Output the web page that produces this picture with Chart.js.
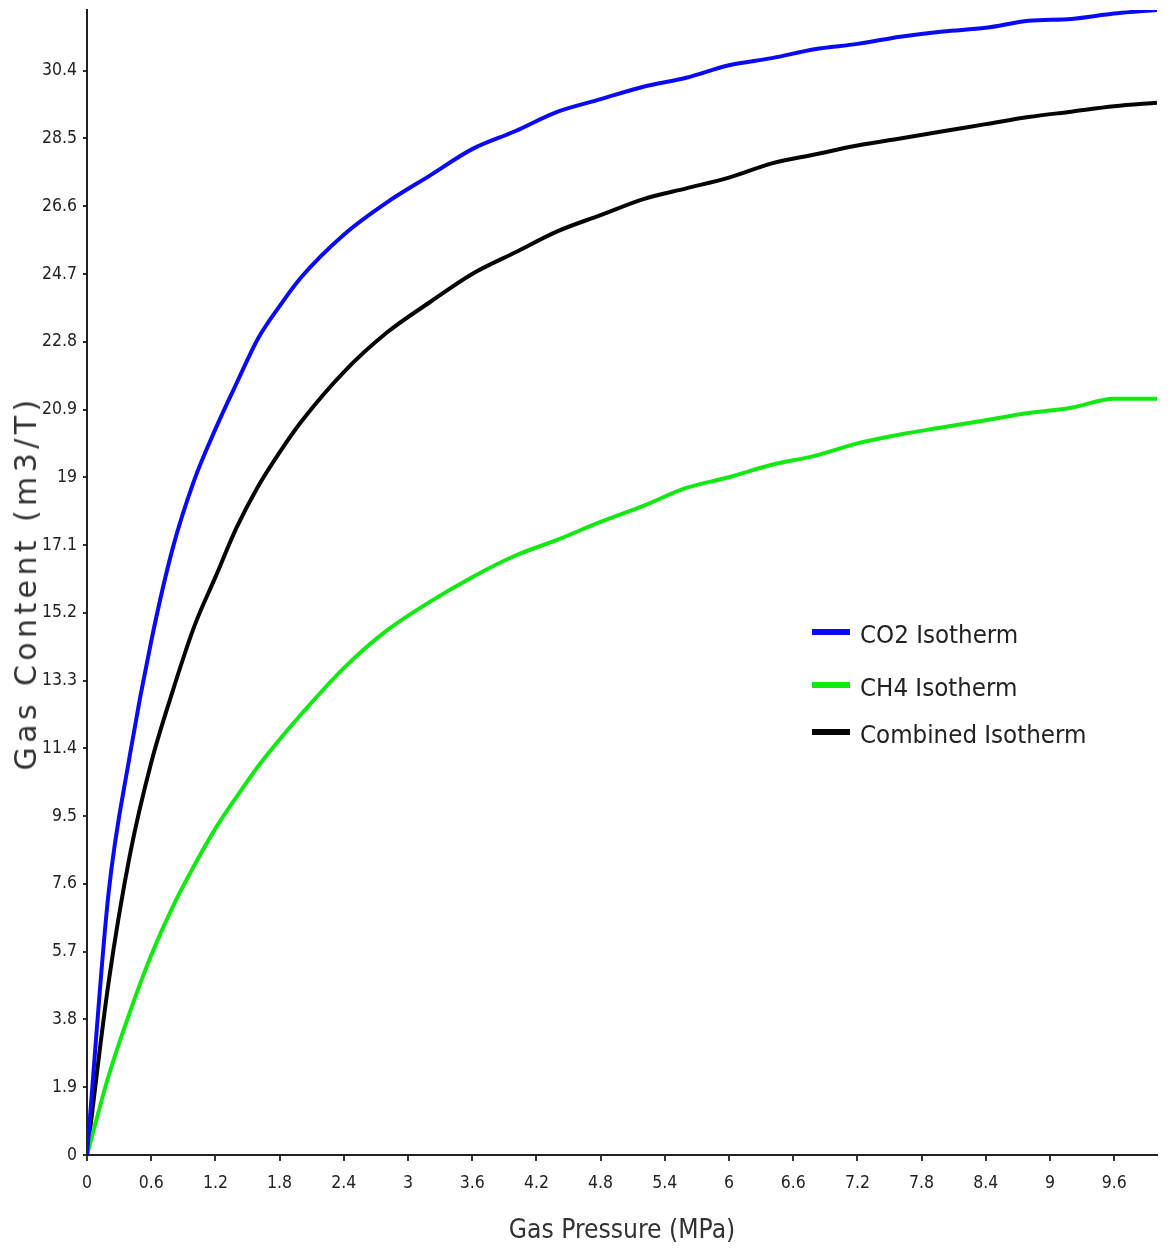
<!DOCTYPE html>
<html>
<head>
<meta charset="utf-8">
<script src="https://cdn.jsdelivr.net/npm/chart.js@4.4.1/dist/chart.umd.min.js"></script>
<style>
html,body{margin:0;padding:0;background:#fff;}
#wrap{position:relative;width:1169px;height:1249px;}
#legend{position:absolute;left:812px;top:616px;color:#222;}
.item{position:absolute;left:0;white-space:nowrap;height:36px;line-height:36px;}
.sw{position:absolute;left:0;top:13px;width:38px;height:6px;}
.lt{position:absolute;left:48px;top:0;}
#ytitle{position:absolute;left:26px;top:582px;transform:translate(-50%,-50%) rotate(-90deg);white-space:nowrap;color:#333;line-height:1;}
</style>
</head>
<body>
<div id="wrap">
  <canvas id="c" width="1169" height="1249"></canvas>
  <div id="legend"></div>
  <div id="ytitle"></div>
</div>
<script>
// ---- data ----
const pressure = [0, 0.2, 0.4, 0.6, 0.8, 1.0, 1.2, 1.4, 1.6, 1.8, 2.0, 2.4, 2.8, 3.2, 3.6, 4.0, 4.4, 4.8, 5.2, 5.6, 6.0, 6.4, 6.8, 7.2, 7.6, 8.0, 8.4, 8.8, 9.2, 9.6, 10.0];
const co2Isotherm = [0, 7.3, 11.2, 14.4, 17.0, 18.9, 20.35, 21.65, 22.9, 23.8, 24.6, 25.8, 26.7, 27.45, 28.2, 28.7, 29.25, 29.6, 29.95, 30.2, 30.55, 30.75, 31.0, 31.15, 31.35, 31.5, 31.6, 31.8, 31.85, 32.0, 32.1];
const ch4Isotherm = [0, 2.2, 4.0, 5.6, 6.95, 8.1, 9.15, 10.05, 10.9, 11.65, 12.35, 13.65, 14.7, 15.5, 16.2, 16.8, 17.25, 17.75, 18.2, 18.7, 19.0, 19.35, 19.6, 19.95, 20.2, 20.4, 20.6, 20.8, 20.95, 21.2, 21.2];
const combinedIsotherm = [0, 4.8, 8.4, 11.0, 13.0, 14.8, 16.2, 17.6, 18.75, 19.7, 20.55, 21.95, 23.05, 23.9, 24.7, 25.3, 25.9, 26.35, 26.8, 27.1, 27.4, 27.8, 28.05, 28.3, 28.5, 28.7, 28.9, 29.1, 29.25, 29.4, 29.5];
const seriesNames = ['CO2 Isotherm', 'CH4 Isotherm', 'Combined Isotherm'];
const xTicks = [0, 0.6, 1.2, 1.8, 2.4, 3, 3.6, 4.2, 4.8, 5.4, 6, 6.6, 7.2, 7.8, 8.4, 9, 9.6];
const yTicks = [0, 1.9, 3.8, 5.7, 7.6, 9.5, 11.4, 13.3, 15.2, 17.1, 19, 20.9, 22.8, 24.7, 26.6, 28.5, 30.4];
const xTitle = 'Gas Pressure (MPa)';
const yTitle = 'Gas Content (m3/T)';

const colors = ['#0a0af5', '#12e812', '#050505'];
const seriesValues = [co2Isotherm, ch4Isotherm, combinedIsotherm];

// ---- font selection (pick the narrowest installed family) ----
const mctx = document.createElement('canvas').getContext('2d');
function width(txt, font) { mctx.font = font; return mctx.measureText(txt).width; }
function hasFont(name) {
  const s = 'abcdefghijklmnopqrstuvwxyz0123456789';
  return width(s, '72px "' + name + '", monospace') !== width(s, '72px monospace') ||
         width(s, '72px "' + name + '", serif') !== width(s, '72px serif');
}
const narrowCandidates = ['Noto Sans ExtraCondensed', 'Liberation Sans Narrow', 'Noto Sans Condensed', 'Noto Sans SemiCondensed', 'DejaVu Sans Condensed'];
const narrow = narrowCandidates.find(hasFont) || 'DejaVu Sans';
const narrowFam = '"' + narrow + '", "DejaVu Sans Condensed", sans-serif';
const wideFam = '"DejaVu Sans", Verdana, sans-serif';
function sizeFor(txt, fam, target) { return Math.round(target / width(txt, '100px ' + fam) * 100 * 10) / 10; }
const tickSize = Math.min(sizeFor('30.4', narrowFam, 35), 24);
const legendSize = sizeFor('CO2 Isotherm', narrowFam, 158);
const xTitleSize = sizeFor(xTitle, narrowFam, 227);
const yTitleSize = 30;
const yTitleSpacing = (375 - width(yTitle, yTitleSize + 'px ' + wideFam)) / yTitle.length;

const toPts = arr => arr.map((v, i) => ({x: pressure[i], y: v}));
const fmt = v => String(parseFloat(Number(v).toFixed(1)));
const tickFont = {family: narrowFam, size: tickSize};

const datasets = seriesNames.map((n, i) => ({
  label: n,
  data: toPts(seriesValues[i]),
  borderColor: colors[i],
  backgroundColor: colors[i],
  borderWidth: 4,
  pointRadius: 0,
  cubicInterpolationMode: 'monotone',
  fill: false
}));

const chart = new Chart(document.getElementById('c'), {
  type: 'line',
  data: {datasets},
  options: {
    responsive: false,
    animation: false,
    layout: {padding: {top: 10, right: 12, left: 0, bottom: 0}},
    plugins: {legend: {display: false}, tooltip: {enabled: false}},
    scales: {
      x: {
        type: 'linear', min: 0, max: 10,
        afterBuildTicks: s => { s.ticks = xTicks.map(v => ({value: v})); },
        afterFit: s => { s.height = 94; s.paddingLeft = 0; s.paddingRight = 0; },
        border: {display: true, color: '#222', width: 2},
        grid: {display: true, drawOnChartArea: false, drawTicks: true, tickLength: 6, color: '#333', lineWidth: 2},
        ticks: {color: '#222', font: tickFont, padding: 12, maxRotation: 0, autoSkip: false, callback: v => fmt(v)},
        title: {display: true, text: xTitle, color: '#333', font: {family: narrowFam, size: xTitleSize}, padding: {top: 0, bottom: 2}}
      },
      y: {
        type: 'linear', min: 0, max: 32.1,
        afterBuildTicks: s => { s.ticks = yTicks.map(v => ({value: v})); },
        afterFit: s => { s.width = 87; s.paddingTop = 0; s.paddingBottom = 0; },
        border: {display: true, color: '#222', width: 2},
        grid: {display: true, drawOnChartArea: false, drawTicks: true, tickLength: 4, color: '#333', lineWidth: 2},
        ticks: {color: '#222', font: tickFont, padding: 6, autoSkip: false, callback: v => fmt(v)},
        title: {display: false, text: yTitle}
      }
    }
  }
});

// y-axis title overlay (letter-spaced, centred on the plot area)
const yt = document.getElementById('ytitle');
yt.textContent = yTitle;
yt.style.fontFamily = wideFam;
yt.style.fontSize = yTitleSize + 'px';
yt.style.letterSpacing = yTitleSpacing.toFixed(2) + 'px';
yt.style.top = ((chart.chartArea.top + chart.chartArea.bottom) / 2) + 'px';

// legend overlay
const lg = document.getElementById('legend');
lg.style.fontFamily = narrowFam;
lg.style.fontSize = legendSize + 'px';
const tops = [0, 53, 100];
seriesNames.forEach((n, i) => {
  const it = document.createElement('div');
  it.className = 'item';
  it.style.top = tops[i] + 'px';
  it.innerHTML = '<div class="sw" style="background:' + colors[i] + '"></div><span class="lt">' + n + '</span>';
  lg.appendChild(it);
});
</script>
</body>
</html>
